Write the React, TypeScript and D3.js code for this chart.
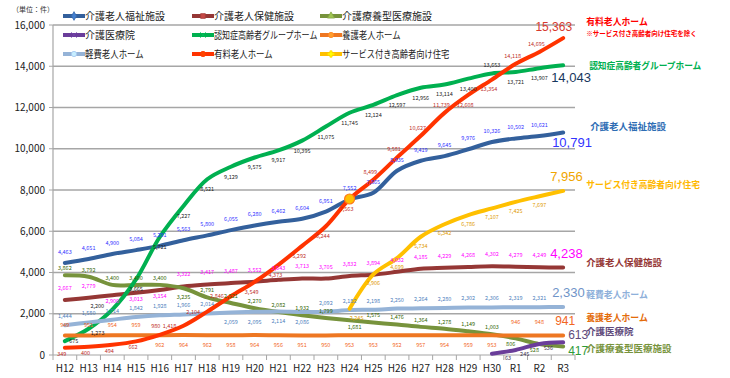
import React from 'react';
import * as d3 from 'd3';

const categories = ['H12','H13','H14','H15','H16','H17','H18','H19','H20','H21','H22','H23','H24','H25','H26','H27','H28','H29','H30','R1','R2','R3'];
const yTicks = [0, 2000, 4000, 6000, 8000, 10000, 12000, 14000, 16000];

const fukushi = [4463, 4651, 4900, 5084, 5291, 5563, 5800, 6055, 6280, 6462, 6604, 6951, 7552, 7865, 8935, 9419, 9645, 9976, 10326, 10502, 10621, 10791];
const rouken = [2667, 2779, 2900, 3013, 3154, 3322, 3417, 3487, 3552, 3643, 3713, 3705, 3832, 3894, 4032, 4185, 4229, 4268, 4302, 4279, 4249, 4238];
const ryoyo = [3862, 3792, 3400, 3400, 3400, 3235, 2791, 2521, 2270, 2082, 1932, 1799, 1681, 1575, 1476, 1364, 1278, 1149, 1003, 806, 528, 417];
const iryoin = [null, null, null, null, null, null, null, null, null, null, null, null, null, null, null, null, null, null, 63, 245, 536, 613];
const groupHome = [675, 1273, 2200, 3665, 5721, 7227, 8521, 9129, 9575, 9917, 10395, 11075, 11745, 12124, 12597, 12956, 13114, 13400, 13653, 13721, 13907, 14043];
const yogo = [949, 951, 954, 959, 962, 964, 962, 958, 964, 956, 951, 950, 953, 953, 952, 957, 954, 959, 953, 946, 948, 941];
const keihi = [1444, 1580, 1714, 1842, 1928, 1966, 2014, 2059, 2095, 2114, 2086, 2092, 2182, 2198, 2250, 2264, 2280, 2302, 2306, 2319, 2321, 2330];
const yuryo = [349, 400, 494, 662, 980, 1418, 2104, 2846, 3549, 4373, 5292, 6244, 7563, 8499, 9581, 10627, 11739, 12608, 13354, 14118, 14695, 15363];
const sakoju = [null, null, null, null, null, null, null, null, null, null, null, null, 2245, 3906, 4699, 5734, 6342, 6786, 7107, 7425, 7697, 7956];

const seriesNames = ['介護老人福祉施設', '介護老人保健施設', '介護療養型医療施設', '介護医療院', '認知症高齢者グループホーム', '養護老人ホーム', '軽費老人ホーム', '有料老人ホーム', 'サービス付き高齢者向け住宅'];
const seriesValues = [fukushi, rouken, ryoyo, iryoin, groupHome, yogo, keihi, yuryo, sakoju];
const unitLabel = '（単位：件）';
const noteLabel = '※サービス付き高齢者向け住宅を除く';

const JP = '"Noto Sans CJK JP", "Noto Sans", sans-serif';

type Style = {
  color: string; labelColor: string; endColor: string; nameColor: string;
  dy: number; dx: number; symbol: any; endDx: number; endDy: number; endAnchor: string; endSize: number;
  nameDy: number; nameDx: number;
};

const styles: Style[] = [
  { color: '#33609C', labelColor: '#3333FF', endColor: '#3333FF', nameColor: '#2E6DB4', dy: -11, dx: 0, symbol: d3.symbolDiamond, endDx: -11, endDy: 10, endAnchor: 'start', endSize: 13, nameDy: -6, nameDx: 27 },
  { color: '#953735', labelColor: '#FF00FF', endColor: '#FF00FF', nameColor: '#953735', dy: -12, dx: 0, symbol: d3.symbolSquare, endDx: -13, endDy: -14, endAnchor: 'start', endSize: 13, nameDy: -5, nameDx: 23 },
  { color: '#77933C', labelColor: '#336600', endColor: '#2E9B3A', nameColor: '#77933C', dy: -7, dx: 0, symbol: d3.symbolTriangle, endDx: 5, endDy: 4, endAnchor: 'start', endSize: 12, nameDy: 2, nameDx: 23 },
  { color: '#6A3D9A', labelColor: '#403151', endColor: '#604A7B', nameColor: '#604A7B', dy: 4, dx: 9, symbol: d3.symbolX, endDx: 5, endDy: -8, endAnchor: 'start', endSize: 12, nameDy: -11, nameDx: 23 },
  { color: '#00B050', labelColor: '#222222', endColor: '#17375E', nameColor: '#00B050', dy: 10, dx: 0, symbol: d3.symbolX, endDx: -12, endDy: 12, endAnchor: 'start', endSize: 13, nameDy: 0, nameDx: 26 },
  { color: '#EE7722', labelColor: '#F26522', endColor: '#F26522', nameColor: '#E46C0A', dy: 10, dx: 0, symbol: d3.symbolCircle, endDx: -8, endDy: -15, endAnchor: 'start', endSize: 12, nameDy: -18, nameDx: 23 },
  { color: '#95B3D7', labelColor: '#4F81BD', endColor: '#7094C8', nameColor: '#8EB0DA', dy: -9, dx: 0, symbol: d3.symbolCircle, endDx: -11, endDy: -14, endAnchor: 'start', endSize: 13, nameDy: -12, nameDx: 23 },
  { color: '#FF3300', labelColor: '#C0302A', endColor: '#D63A2E', nameColor: '#FF0000', dy: -8, dx: -3, symbol: d3.symbolCircle, endDx: 9, endDy: -11, endAnchor: 'end', endSize: 12, nameDy: -16, nameDx: 23 },
  { color: '#FFC000', labelColor: '#E09A00', endColor: '#F0A500', nameColor: '#FFB800', dy: 9, dx: 0, symbol: d3.symbolCross, endDx: -13, endDy: -14, endAnchor: 'start', endSize: 13, nameDy: -6, nameDx: 23 },
];

// estimated width for a proportional Japanese font (kana narrower than kanji)
const estW = (s: string, fs: number, k: number) =>
  Array.from(s).reduce((w, ch) => w + (/[\u3040-\u30ff]/.test(ch) ? fs * k : /[\x00-\x7f]/.test(ch) ? fs * 0.55 : fs), 0);

const margin = { left: 53, right: 575, top: 25, bottom: 355 };

// label placement rules, chosen to keep neighbouring labels apart as in the original
function labelOffset(si: number, i: number, v: number): [number, number] {
  const s = styles[si];
  const prevMissing = i > 0 && seriesValues[si][i - 1] == null;
  const extraDx = prevMissing ? 7 : 0;
  switch (si) {
    case 1: { // 老健: below when 療養型 sits just above
      const d = ryoyo[i] - v;
      return [0, d > 0 && d < 600 ? 6 : s.dy];
    }
    case 2: { // 療養型
      if (v < 900) return [-5, 6];
      if (v < 1000) return [0, -5];
      const sk = sakoju[i] as number | null;
      if (sk != null && sk - v < 800) return [5, 7];
      const d = rouken[i] - v;
      return [0, d > 0 && d < 300 ? 9 : s.dy];
    }
    case 4: { // GH
      if (v < 1000) return [9, 0];
      if (v < 1500) return [9, 4];
      if (v < 3000) return [-15, -4];
      const d = v - yuryo[i];
      return [0, d > 0 && d < 600 ? -8 : s.dy];
    }
    case 5: { // 養護
      if (((iryoin[i] as number | null) ?? 0) > 100) return [0, -13];
      if (yuryo[i] < 900) return [0, -10];
      return [0, s.dy];
    }
    case 6: { // 軽費
      const d = ryoyo[i] - v;
      return [0, d > -200 && d < 600 ? 10 : s.dy];
    }
    case 7: { // 有料
      if (v < 900) return [-3, 6];
      if (v < 1000) return [-4, -9];
      if (v < 3000) return [-14, 0];
      if (v < 7600) return [-3, 10];
      const d = groupHome[i] - v;
      return [-3, d > 0 && d < 1000 ? 10 : s.dy];
    }
    default:
      return [s.dx + extraDx, s.dy];
  }
}

export default function App() {
  const x = d3.scaleBand<string>().domain(categories).range([margin.left, margin.right]);
  const cx = (c: string) => (x(c) as number) + x.bandwidth() / 2;
  const y = d3.scaleLinear().domain([0, 16000]).range([margin.bottom, margin.top]);
  const fmt = d3.format(',');

  const line = d3.line<[string, number | null]>()
    .defined(d => d[1] != null)
    .x(d => cx(d[0]))
    .y(d => y(d[1] as number))
    .curve(d3.curveCatmullRom.alpha(0.5));

  const last = categories[categories.length - 1];
  const boundaries = d3.range(categories.length + 1).map(i => margin.left + i * x.bandwidth());

  const legendCols = [63, 192, 320];
  const legendRows = [16, 35, 54];

  const hlIndex = categories.indexOf('H24');

  return (
    <svg width={730} height={378} style={{ position: 'absolute', left: 0, top: 0, background: '#fff' }}>
      <rect width={730} height={378} fill="#fff" />
      <text x={12} y={12} fontSize={7} fontFamily={JP} fill="#333">{unitLabel}</text>

      {/* grid */}
      {yTicks.map(t => (
        <g key={t}>
          {t > 0 && <line x1={margin.left} x2={margin.right} y1={y(t)} y2={y(t)} stroke="#A6A6A6" strokeWidth={1.3} />}
          <line x1={margin.left - 4} x2={margin.left} y1={y(t)} y2={y(t)} stroke="#A6A6A6" strokeWidth={1} />
          <text x={45} y={y(t)} dy="0.35em" textAnchor="end" fontSize={10} fontFamily={JP} fill="#222">{fmt(t)}</text>
        </g>
      ))}
      <line x1={margin.left} x2={margin.left} y1={margin.top} y2={margin.bottom} stroke="#A6A6A6" strokeWidth={1.2} />
      <line x1={margin.left} x2={margin.right} y1={margin.bottom} y2={margin.bottom} stroke="#A6A6A6" strokeWidth={1.2} />
      {boundaries.map((b, i) => (
        <line key={i} x1={b} x2={b} y1={margin.bottom} y2={margin.bottom + 5} stroke="#A6A6A6" strokeWidth={1} />
      ))}
      {categories.map(c => (
        <text key={c} x={cx(c)} y={368} dy="0.35em" textAnchor="middle" fontSize={10} fontFamily={JP} fill="#222">{c}</text>
      ))}

      {/* lines */}
      {seriesValues.map((vals, si) => (
        <path key={si} d={line(categories.map((c, i) => [c, vals[i]] as [string, number | null])) || ''}
          fill="none" stroke={styles[si].color} strokeWidth={4} strokeLinecap="round" strokeLinejoin="round" />
      ))}

      {/* highlight marker */}
      <circle cx={cx(categories[hlIndex])} cy={y(yuryo[hlIndex])} r={5} fill="#FFC000" stroke="#FF7A1A" strokeWidth={1.2} />

      {/* data labels */}
      {seriesValues.map((vals, si) => (
        <g key={si}>
          {categories.map((c, i) => {
            const v = vals[i];
            if (v == null || c === last) return null;
            const [odx, ody] = labelOffset(si, i, v);
            return (
              <text key={c} x={cx(c) + odx} y={y(v) + ody} dy="0.35em" textAnchor="middle" fontSize={5.5}
                fontFamily={JP} fill={styles[si].labelColor}>{fmt(v)}</text>
            );
          })}
        </g>
      ))}

      {/* end values */}
      {seriesValues.map((vals, si) => {
        const v = vals[vals.length - 1] as number;
        const s = styles[si];
        return (
          <text key={si} x={cx(last) + s.endDx} y={y(v) + s.endDy} dy="0.35em" textAnchor={s.endAnchor}
            fontSize={s.endSize} fontFamily='"Liberation Sans", Arial, sans-serif' fill={s.endColor}>{fmt(v)}</text>
        );
      })}

      {/* series names */}
      {seriesValues.map((vals, si) => {
        const v = vals[vals.length - 1] as number;
        const s = styles[si];
        const n = seriesNames[si];
        return (
          <text key={si} x={cx(last) + s.nameDx} y={y(v) + s.nameDy} dy="0.35em" fontSize={9.5} fontWeight="bold"
            fontFamily={JP} fill={s.nameColor} textLength={estW(n, 9.5, 0.83)} lengthAdjust="spacingAndGlyphs">{n}</text>
        );
      })}
      <text x={cx(last) + 23} y={y(yuryo[yuryo.length - 1]) - 5} dy="0.35em" fontSize={7} fontWeight="bold"
        fontFamily={JP} fill="#FF0000" textLength={estW(noteLabel, 7, 0.85)} lengthAdjust="spacingAndGlyphs">{noteLabel}</text>

      {/* legend */}
      {seriesNames.map((n, i) => {
        const lx = legendCols[i % 3];
        const ly = legendRows[Math.floor(i / 3)];
        const s = styles[i];
        const sym = d3.symbol().type(s.symbol).size(22)();
        return (
          <g key={n}>
            <line x1={lx} x2={lx + 22} y1={ly} y2={ly} stroke={s.color} strokeWidth={4} />
            <path d={sym || ''} transform={`translate(${lx + 11},${ly})`} fill={d3.color(s.color)!.brighter(0.8).toString()} stroke={d3.color(s.color)!.brighter(0.3).toString()} strokeWidth={0.8} />
            <text x={lx + 22} y={ly} dy="0.35em" fontSize={10} fontFamily={JP} fill="#222"
              textLength={estW(n, 10, 0.62)} lengthAdjust="spacingAndGlyphs">{n}</text>
          </g>
        );
      })}
    </svg>
  );
}
